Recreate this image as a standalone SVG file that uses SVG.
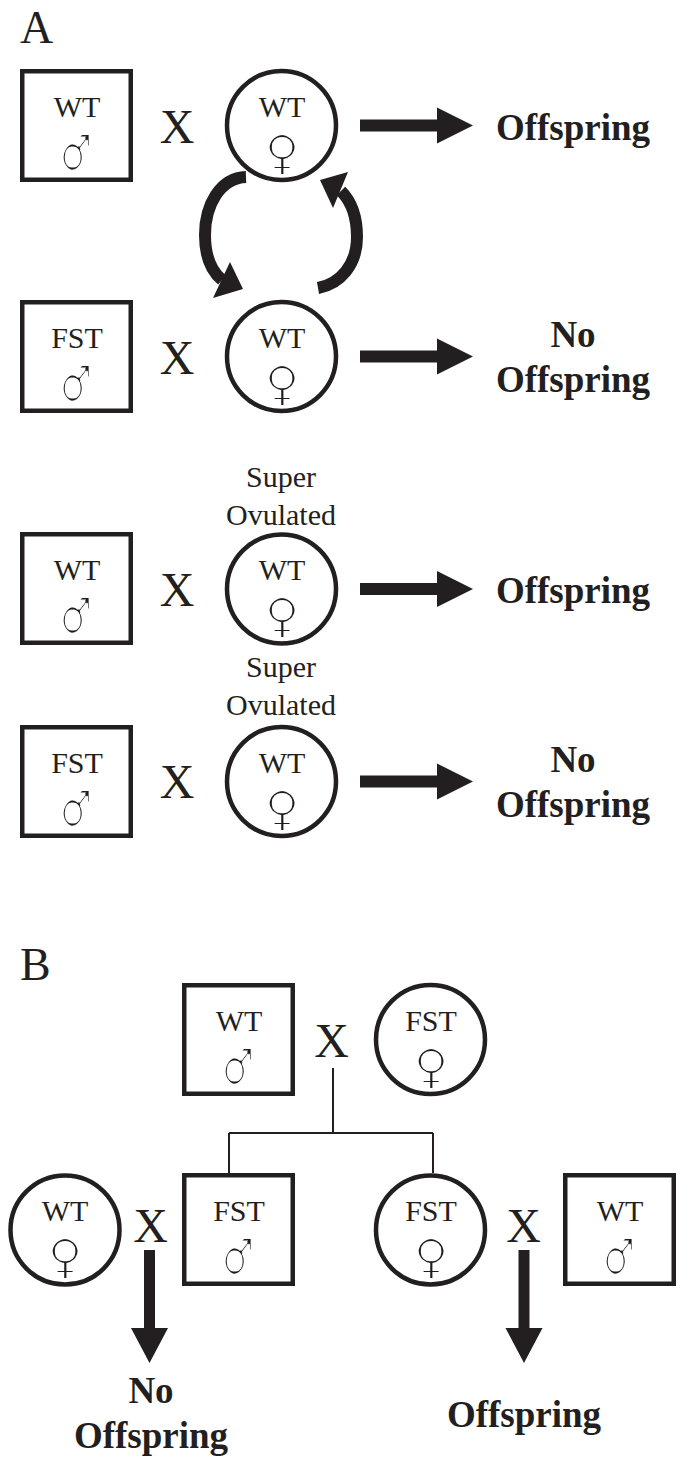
<svg xmlns="http://www.w3.org/2000/svg" width="678" height="1459" viewBox="0 0 678 1459">
  <defs>
    <!-- thins the stems of the sex symbols to a hairline -->
    <filter id="thin" x="-20%" y="-20%" width="140%" height="140%">
      <feMorphology operator="erode" radius="1.2"/>
    </filter>
  </defs>
  <style>
    .shape { fill: #ffffff; stroke: #231f20; stroke-width: 4.5; }
    .lbl { font-family: "Liberation Serif", "Times New Roman", serif; font-size: 30px; fill: #231f20; text-anchor: middle; }
    .cross { font-family: "Liberation Serif", "Times New Roman", serif; font-size: 48px; fill: #231f20; text-anchor: middle; }
    .panel { font-family: "Liberation Serif", "Times New Roman", serif; font-size: 46px; fill: #231f20; }
    .res { font-family: "Liberation Serif", "Times New Roman", serif; font-size: 37px; font-weight: bold; fill: #231f20; text-anchor: middle; }
    .male, .female { font-family: "DejaVu Sans", sans-serif; fill: #231f20; text-anchor: middle; filter: url(#thin); }
    .male { font-size: 50px; }
    .female { font-size: 48px; }
    .arrow { fill: #231f20; stroke: none; }
    .curve { fill: none; stroke: #231f20; stroke-width: 12; }
    .line { fill: none; stroke: #231f20; stroke-width: 2; }
  </style>

  <!-- Panel A -->
  <text class="panel" x="20" y="43">A</text>

  <!-- Row 1: WT male x WT female -->
  <g id="a1-male">
    <rect class="shape" x="22.25" y="71.25" width="108.5" height="108.5"/>
    <text class="lbl" x="77" y="117">WT</text>
    <text class="male" transform="translate(76,170) scale(0.72,1)">♂</text>
  </g>
  <text class="cross" x="177" y="143">X</text>
  <g id="a1-female">
    <circle class="shape" cx="281.5" cy="125.5" r="54.5"/>
    <text class="lbl" x="282" y="117">WT</text>
    <text class="female" x="282" y="168.5">♀</text>
  </g>
  <g id="a1-result">
    <text class="res" x="573" y="140">Offspring</text>
  </g>

  <!-- Row 2: FST male x WT female -->
  <g id="a2-male">
    <rect class="shape" x="22.25" y="302.25" width="108.5" height="108.5"/>
    <text class="lbl" x="77" y="348">FST</text>
    <text class="male" transform="translate(76,401) scale(0.72,1)">♂</text>
  </g>
  <text class="cross" x="177" y="374">X</text>
  <g id="a2-female">
    <circle class="shape" cx="281.5" cy="356.5" r="54.5"/>
    <text class="lbl" x="282" y="348">WT</text>
    <text class="female" x="282" y="399.5">♀</text>
  </g>
  <g id="a2-result">
    <text class="res" x="573" y="347">No</text>
    <text class="res" x="573" y="392">Offspring</text>
  </g>

  <!-- Row 3: WT male x superovulated WT female -->
  <g id="a3-male">
    <rect class="shape" x="22.25" y="534.25" width="108.5" height="108.5"/>
    <text class="lbl" x="77" y="580">WT</text>
    <text class="male" transform="translate(76,633) scale(0.72,1)">♂</text>
  </g>
  <text class="cross" x="177" y="606">X</text>
  <g id="a3-female">
    <text class="lbl" x="281" y="487">Super</text>
    <text class="lbl" x="281" y="525">Ovulated</text>
    <circle class="shape" cx="281.5" cy="589" r="54.5"/>
    <text class="lbl" x="282" y="580">WT</text>
    <text class="female" x="282" y="631.5">♀</text>
  </g>
  <g id="a3-result">
    <text class="res" x="573" y="603">Offspring</text>
  </g>

  <!-- Row 4: FST male x superovulated WT female -->
  <g id="a4-male">
    <rect class="shape" x="22.25" y="727.25" width="108.5" height="108.5"/>
    <text class="lbl" x="77" y="773">FST</text>
    <text class="male" transform="translate(76,826) scale(0.72,1)">♂</text>
  </g>
  <text class="cross" x="177" y="798">X</text>
  <g id="a4-female">
    <text class="lbl" x="281" y="677">Super</text>
    <text class="lbl" x="281" y="715">Ovulated</text>
    <circle class="shape" cx="281.5" cy="781.5" r="54.5"/>
    <text class="lbl" x="282" y="773">WT</text>
    <text class="female" x="282" y="824.5">♀</text>
  </g>
  <g id="a4-result">
    <text class="res" x="573" y="772">No</text>
    <text class="res" x="573" y="817">Offspring</text>
  </g>

  <!-- Panel B -->
  <text class="panel" x="20" y="980">B</text>

  <g id="b-parent-male">
    <rect class="shape" x="184.25" y="985.25" width="108.5" height="108.5"/>
    <text class="lbl" x="239" y="1031">WT</text>
    <text class="male" transform="translate(238,1084) scale(0.72,1)">♂</text>
  </g>
  <text class="cross" x="331.5" y="1057">X</text>
  <g id="b-parent-female">
    <circle class="shape" cx="430.5" cy="1039.5" r="54.5"/>
    <text class="lbl" x="431" y="1031">FST</text>
    <text class="female" x="431" y="1082.5">♀</text>
  </g>

  <g id="b-left-female">
    <circle class="shape" cx="65" cy="1230" r="54.5"/>
    <text class="lbl" x="65" y="1221">WT</text>
    <text class="female" x="65" y="1272.5">♀</text>
  </g>
  <text class="cross" x="150.5" y="1242">X</text>
  <g id="b-left-male">
    <rect class="shape" x="184.25" y="1175.25" width="108.5" height="108.5"/>
    <text class="lbl" x="239" y="1221">FST</text>
    <text class="male" transform="translate(238,1274) scale(0.72,1)">♂</text>
  </g>
  <g id="b-left-result">
    <text class="res" x="151" y="1403">No</text>
    <text class="res" x="151" y="1448">Offspring</text>
  </g>

  <g id="b-right-female">
    <circle class="shape" cx="430.5" cy="1230" r="54.5"/>
    <text class="lbl" x="431" y="1221">FST</text>
    <text class="female" x="431" y="1272.5">♀</text>
  </g>
  <text class="cross" x="523.5" y="1242">X</text>
  <g id="b-right-male">
    <rect class="shape" x="565.25" y="1175.25" width="108.5" height="108.5"/>
    <text class="lbl" x="620" y="1221">WT</text>
    <text class="male" transform="translate(619,1274) scale(0.72,1)">♂</text>
  </g>
  <g id="b-right-result">
    <text class="res" x="524" y="1427">Offspring</text>
  </g>

  <!-- Connectors -->
  <g id="connectors">
    <!-- exchange between the two WT females -->
    <path class="curve" d="M246,177 C220,178 205,205 205,235 C205,255 210,270 222,280"/>
    <polygon class="arrow" points="230,262 243,289 213,298"/>
    <path class="curve" d="M318,288 C340,284 357,265 357,237 C357,215 350,200 341,191"/>
    <polygon class="arrow" points="320,180 348,172 333,208"/>

    <!-- outcome arrows, panel A -->
    <polygon class="arrow" points="360,119.5 437,119.5 437,107.5 473,125.5 437,143.5 437,131.5 360,131.5"/>
    <polygon class="arrow" points="360,350.5 437,350.5 437,338.5 473,356.5 437,374.5 437,362.5 360,362.5"/>
    <polygon class="arrow" points="360,583 437,583 437,571 473,589 437,607 437,595 360,595"/>
    <polygon class="arrow" points="360,775.5 437,775.5 437,763.5 473,781.5 437,799.5 437,787.5 360,787.5"/>

    <!-- pedigree lines, panel B -->
    <path class="line" d="M333,1068 V1133 M229,1133 H433 M229,1133 V1173 M433,1133 V1173"/>

    <!-- outcome arrows, panel B -->
    <polygon class="arrow" points="144,1250 155,1250 155,1328 168,1328 149.5,1363 131,1328 144,1328"/>
    <polygon class="arrow" points="518.5,1250 529.5,1250 529.5,1328 542.5,1328 524,1363 505.5,1328 518.5,1328"/>
  </g>
</svg>
